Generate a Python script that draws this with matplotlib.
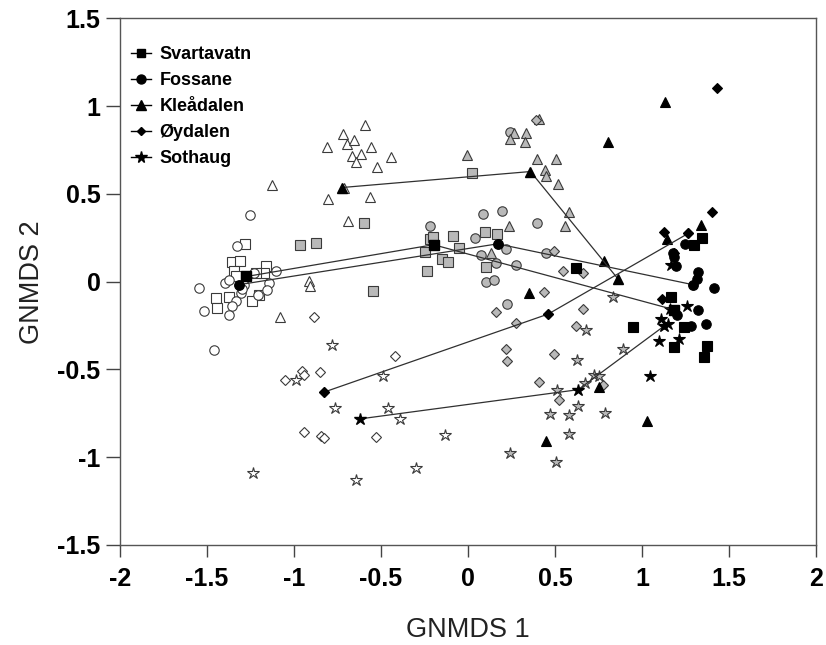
import matplotlib
matplotlib.use("Agg")
import matplotlib.pyplot as plt
from matplotlib.lines import Line2D

plt.rcParams['font.family'] = ['Liberation Sans', 'DejaVu Sans']
plt.rcParams['axes.unicode_minus'] = False

sites = ["Svartavatn", "Fossane", "Kleådalen", "Øydalen", "Sothaug"]
markers = ["s", "o", "^", "D", "*"]

# ---------------- Svartavatn (squares) ----------------
sva_white_x = [-1.279, -1.355, -1.312, -1.160, -1.170, -1.221, -1.346, -1.336, -1.451, -1.445, -1.375, -1.202, -1.240]
sva_white_y = [0.214, 0.112, 0.121, 0.091, 0.049, 0.049, 0.059, 0.030, -0.093, -0.150, -0.089, -0.078, -0.108]
sva_gray_x = [-0.599, -0.964, -0.873, -0.548, -0.216, -0.200, -0.085, -0.049, -0.248, -0.148, -0.116, -0.235, 0.097, 0.168, 0.101, 0.024]
sva_gray_y = [0.333, 0.212, 0.219, -0.052, 0.243, 0.255, 0.262, 0.195, 0.169, 0.129, 0.110, 0.064, 0.286, 0.273, 0.084, 0.620]
sva_black_x = [0.618, 1.346, 1.298, 1.164, 0.949, 1.240, 1.183, 1.371, 1.359]
sva_black_y = [0.078, 0.249, 0.211, -0.087, -0.260, -0.260, -0.372, -0.368, -0.431]
sva_cent_x = [-1.273, -0.198, 1.183]
sva_cent_y = [0.030, 0.211, -0.159]

# ---------------- Fossane (circles) ----------------
fos_white_x = [-1.254, -1.326, -1.547, -1.518, -1.461, -1.394, -1.375, -1.307, -1.336, -1.355, -1.375, -1.288, -1.145, -1.154, -1.106, -1.208, -1.299, -1.230]
fos_white_y = [0.381, 0.205, -0.036, -0.165, -0.391, -0.008, 0.011, -0.064, -0.112, -0.140, -0.188, -0.017, -0.008, -0.049, 0.059, -0.075, -0.040, 0.050]
fos_gray_x = [0.085, 0.193, 0.398, -0.216, 0.043, 0.221, 0.072, 0.162, 0.277, 0.101, 0.148, 0.449, 0.244, 0.225]
fos_gray_y = [0.387, 0.402, 0.334, 0.320, 0.249, 0.188, 0.150, 0.106, 0.093, -0.004, 0.008, 0.163, 0.855, -0.125]
fos_black_x = [1.246, 1.177, 1.183, 1.198, 1.321, 1.317, 1.413, 1.321, 1.365, 1.279, 1.202]
fos_black_y = [0.216, 0.163, 0.140, 0.087, 0.053, 0.015, -0.036, -0.159, -0.239, -0.254, -0.188]
fos_cent_x = [-1.317, 0.170, 1.294]
fos_cent_y = [-0.017, 0.216, -0.017]

# ---------------- Kleådalen (triangles) ----------------
kle_white_x = [-0.812, -0.721, -0.697, -0.654, -0.593, -0.666, -0.614, -0.645, -0.560, -0.523, -0.444, -0.715, -0.806, -0.690, -0.563, -1.128, -0.916, -0.909, -1.080]
kle_white_y = [0.769, 0.844, 0.785, 0.809, 0.892, 0.715, 0.726, 0.684, 0.767, 0.651, 0.710, 0.533, 0.472, 0.349, 0.483, 0.550, 0.007, -0.024, -0.200]
kle_gray_x = [-0.005, 0.263, 0.244, 0.334, 0.330, 0.398, 0.503, 0.441, 0.449, 0.516, 0.583, 0.555, 0.235, 0.135, 0.407]
kle_gray_y = [0.723, 0.850, 0.814, 0.850, 0.795, 0.700, 0.700, 0.637, 0.603, 0.558, 0.400, 0.320, 0.319, 0.163, 0.926]
kle_black_x = [1.131, 0.806, 1.340, 1.141, 0.781, 0.353, 0.752, 1.030, 0.451]
kle_black_y = [1.026, 0.799, 0.324, 0.245, 0.121, -0.064, -0.601, -0.795, -0.905]
kle_cent_x = [-0.723, 0.359, 0.863]
kle_cent_y = [0.537, 0.628, 0.015]

# ---------------- Øydalen (diamonds) ----------------
oyd_white_x = [-0.886, -0.422, -0.852, -0.953, -0.940, -1.053, -0.944, -0.842, -0.829, -0.526]
oyd_white_y = [-0.203, -0.425, -0.514, -0.510, -0.529, -0.562, -0.855, -0.880, -0.890, -0.886]
oyd_gray_x = [0.388, 0.493, 0.545, 0.662, 0.436, 0.162, 0.273, 0.660, 0.618, 0.216, 0.225, 0.493, 0.407, 0.522, 0.775]
oyd_gray_y = [0.922, 0.173, 0.059, 0.049, -0.059, -0.175, -0.235, -0.155, -0.250, -0.381, -0.450, -0.412, -0.573, -0.672, -0.586]
oyd_black_x = [1.432, 1.403, 1.126, 1.183, 1.116]
oyd_black_y = [1.102, 0.400, 0.286, 0.163, -0.099]
oyd_cent_x = [-0.825, 0.461, 1.265]
oyd_cent_y = [-0.628, -0.184, 0.275]

# ---------------- Sothaug (stars) ----------------
sot_white_x = [-0.781, -0.991, -0.490, -0.765, -0.461, -0.388, -0.133, -1.235, -0.643, -0.298]
sot_white_y = [-0.359, -0.562, -0.535, -0.719, -0.719, -0.781, -0.871, -1.089, -1.131, -1.060]
sot_gray_x = [0.832, 0.681, 0.892, 0.627, 0.723, 0.752, 0.675, 0.509, 0.631, 0.474, 0.579, 0.786, 0.579, 0.240, 0.503]
sot_gray_y = [-0.087, -0.277, -0.381, -0.444, -0.533, -0.539, -0.577, -0.615, -0.706, -0.751, -0.757, -0.747, -0.865, -0.975, -1.026]
sot_black_x = [1.164, 1.260, 1.112, 1.149, 1.097, 1.212, 1.045, 1.160]
sot_black_y = [0.097, -0.140, -0.212, -0.239, -0.340, -0.326, -0.539, -0.155]
sot_cent_x = [-0.618, 0.633, 1.125]
sot_cent_y = [-0.781, -0.615, -0.254]

x_ticks = [-2, -1.5, -1, -0.5, 0, 0.5, 1, 1.5, 2]
x_tick_labels = ["-2", "-1.5", "-1", "-0.5", "0", "0.5", "1", "1.5", "2"]
y_ticks = [-1.5, -1, -0.5, 0, 0.5, 1, 1.5]
y_tick_labels = ["-1.5", "-1", "-0.5", "0", "0.5", "1", "1.5"]

groups = [
    (sva_white_x, sva_white_y, sva_gray_x, sva_gray_y, sva_black_x, sva_black_y, sva_cent_x, sva_cent_y),
    (fos_white_x, fos_white_y, fos_gray_x, fos_gray_y, fos_black_x, fos_black_y, fos_cent_x, fos_cent_y),
    (kle_white_x, kle_white_y, kle_gray_x, kle_gray_y, kle_black_x, kle_black_y, kle_cent_x, kle_cent_y),
    (oyd_white_x, oyd_white_y, oyd_gray_x, oyd_gray_y, oyd_black_x, oyd_black_y, oyd_cent_x, oyd_cent_y),
    (sot_white_x, sot_white_y, sot_gray_x, sot_gray_y, sot_black_x, sot_black_y, sot_cent_x, sot_cent_y),
]

msize = {"s": 6.8, "o": 6.8, "^": 7.2, "D": 4.8, "*": 9.0}

fig = plt.figure(figsize=(8.26, 6.45), dpi=100)
ax = fig.add_axes([120 / 826, 1 - 545 / 645, 696 / 826, 526.5 / 645])

GRAY = "#b9b9b9"
EDGE = "#3a3a3a"

for m, g in zip(markers, groups):
    wx, wy, gx, gy, bx, by, cx, cy = g
    ms = msize[m]
    ax.plot(wx, wy, ls="none", marker=m, ms=ms, mfc="white", mec=EDGE, mew=0.8, zorder=2)
    ax.plot(gx, gy, ls="none", marker=m, ms=ms, mfc=GRAY, mec=EDGE, mew=0.8, zorder=2)
    ax.plot(bx, by, ls="none", marker=m, ms=ms, mfc="black", mec="black", mew=0.8, zorder=3)

for m, g in zip(markers, groups):
    cx, cy = g[6], g[7]
    ax.plot(cx, cy, color="#303030", lw=0.9, marker=m, ms=msize[m], mfc="black", mec="black", zorder=4)

ax.set_xlim(-2, 2)
ax.set_ylim(-1.5, 1.5)
ax.set_xticks(x_ticks)
ax.set_xticklabels(x_tick_labels, fontsize=18, fontweight="bold")
ax.set_yticks(y_ticks)
ax.set_yticklabels(y_tick_labels, fontsize=18, fontweight="bold")
ax.tick_params(axis="x", direction="out", length=8.5, width=1, color="#444444", pad=7)
ax.tick_params(axis="y", direction="out", length=10, width=1, color="#444444", pad=4)
for sp in ax.spines.values():
    sp.set_color("#555555")
    sp.set_linewidth(1.0)

ax.set_xlabel("GNMDS 1", fontsize=19.5, color="#222222", labelpad=19)
ax.set_ylabel("GNMDS 2", fontsize=19.5, color="#222222", labelpad=9)

handles = [Line2D([0], [0], color="black", lw=1, marker=m, ms=msize[m] * 0.95,
                  mfc="black", mec="black") for m in markers]
leg = ax.legend(handles, sites, loc="upper left", bbox_to_anchor=(-0.007, 0.978),
                frameon=False, handlelength=1.1, handletextpad=0.45,
                labelspacing=0.5, prop={"weight": "bold", "size": 13})

fig.savefig("out.png", dpi=100)
